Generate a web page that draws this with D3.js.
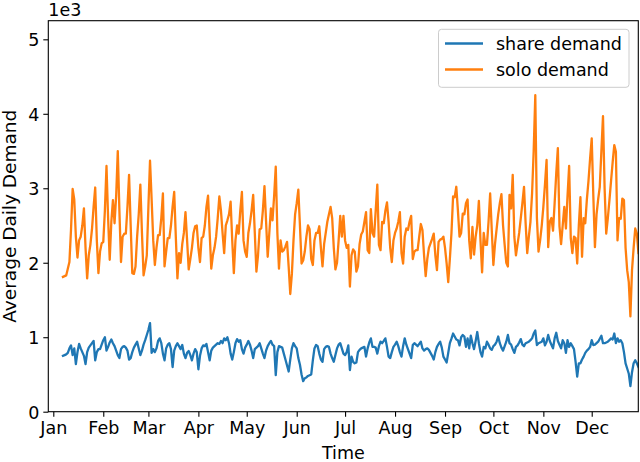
<!DOCTYPE html>
<html>
<head>
<meta charset="utf-8">
<script src="https://cdn.jsdelivr.net/npm/d3@7"></script>
<style>
  html, body { margin: 0; padding: 0; background: #fff; }
  svg { display: block; font-family: "DejaVu Sans", sans-serif; }
</style>
</head>
<body>
<svg id="chart" width="640" height="462"></svg>
<script>
// ---- data (values in thousands, daily from 2017-01-07) ----
const startDate = "2017-01-07";
const seriesNames = ["share demand", "solo demand"];
const seriesColors = ["#1f77b4", "#ff7f0e"];
const yTicks = [0, 1, 2, 3, 4, 5];
const monthLabels = ["Jan","Feb","Mar","Apr","May","Jun","Jul","Aug","Sep","Oct","Nov","Dec"];

const soloDemand = [
  1.81,1.82,1.83,1.92,2.01,2.45,2.99,2.85,2.35,2.07,
  2.30,2.35,2.50,2.73,2.20,1.79,2.10,2.24,2.45,2.75,
  3.01,2.30,1.86,2.15,2.26,2.28,2.70,3.30,2.60,2.04,
  2.55,2.84,2.53,2.90,3.50,2.70,2.01,2.35,2.39,2.39,
  2.75,3.18,2.50,1.86,1.85,1.95,2.35,2.65,3.05,2.40,
  1.83,1.95,2.10,2.75,3.37,2.85,2.30,1.97,2.20,2.37,
  2.37,2.60,2.93,1.95,2.15,2.33,2.33,2.50,2.75,2.95,
  2.35,1.79,2.13,2.00,2.25,2.40,2.68,2.30,1.91,2.05,
  2.20,2.40,2.49,2.50,2.20,2.01,2.33,2.35,2.50,2.75,
  2.90,2.40,1.92,2.10,2.20,2.35,2.60,2.89,2.70,2.40,
  2.13,2.50,2.57,2.65,2.82,2.30,1.86,2.30,2.50,2.39,
  2.70,2.95,2.30,2.15,2.08,2.40,2.53,2.70,2.91,2.40,
  1.88,2.10,2.45,2.46,2.70,3.03,2.55,2.08,2.40,2.73,
  2.57,2.90,3.29,2.40,1.92,2.30,2.15,2.17,2.22,2.28,
  1.95,1.58,1.85,2.30,2.65,2.80,2.98,2.50,1.99,2.03,
  2.15,2.35,2.50,2.45,2.05,1.97,2.30,2.40,2.40,2.49,
  2.20,1.95,2.25,2.40,2.55,2.65,2.75,2.60,2.20,1.91,
  2.00,2.30,2.63,2.35,2.63,2.30,2.20,2.24,1.68,2.10,
  2.18,2.15,1.88,1.95,2.25,2.38,2.42,2.55,2.68,2.17,
  2.13,2.72,2.40,2.35,2.70,3.05,2.24,2.17,2.55,2.53,
  2.70,2.81,2.55,2.20,2.01,2.30,2.40,2.46,2.55,2.68,
  2.13,1.99,2.35,2.46,2.44,2.55,2.63,2.05,2.15,2.17,
  2.17,2.35,2.52,2.44,2.10,1.82,2.05,2.20,2.26,2.32,
  2.39,2.10,1.90,2.28,2.31,2.32,2.35,2.20,1.99,1.74,
  2.05,2.40,2.89,2.88,3.02,2.70,2.35,2.40,2.66,2.65,
  2.80,2.85,2.30,2.06,2.48,2.11,2.35,2.50,2.83,2.30,
  1.87,2.40,2.24,2.24,2.55,2.93,2.44,1.97,2.25,2.45,
  2.65,2.80,2.92,2.50,2.24,2.00,1.95,2.91,2.73,3.18,
  2.35,2.10,2.25,2.40,2.60,2.80,3.02,2.53,2.13,2.35,
  2.55,2.93,3.50,4.25,2.60,2.15,2.30,2.50,2.75,3.05,
  3.38,2.21,2.55,2.60,2.43,2.80,3.20,3.54,2.49,2.25,
  2.50,2.75,2.46,2.90,3.30,2.33,2.13,2.35,2.33,1.99,
  2.50,2.88,2.08,2.60,2.53,2.85,3.10,3.40,3.67,2.90,
  2.21,2.65,2.85,3.02,3.50,3.97,3.00,2.39,2.60,2.84,
  3.10,3.35,3.58,3.49,2.30,2.60,2.59,2.86,2.84,2.20,
  1.90,1.74,1.28,1.90,2.20,2.46,2.39,2.13
];

const shareDemand = [
  0.75,0.76,0.77,0.79,0.85,0.89,0.76,0.85,0.64,0.80,
  0.91,0.85,0.80,0.75,0.64,0.80,0.86,0.89,0.92,0.95,
  0.69,0.80,0.84,0.84,0.90,0.96,1.00,0.82,0.87,0.93,
  0.97,0.92,0.88,0.82,0.76,0.72,0.84,0.87,0.88,0.86,
  0.82,0.70,0.72,0.80,0.86,0.90,0.94,0.85,0.76,0.82,
  0.90,0.96,1.03,1.10,1.19,0.79,0.84,0.80,0.85,0.95,
  0.985,0.92,0.78,0.69,0.85,0.90,0.92,0.84,0.60,0.82,
  0.88,0.92,0.88,0.84,0.895,0.78,0.72,0.79,0.815,0.76,
  0.69,0.78,0.84,0.80,0.57,0.75,0.85,0.89,0.88,0.91,
  0.80,0.69,0.82,0.86,0.88,0.90,0.92,0.91,0.95,0.92,
  0.985,0.96,1.00,0.92,0.78,0.70,0.80,0.92,0.975,0.94,
  0.96,0.84,0.78,0.86,0.90,0.95,0.90,0.82,0.72,0.84,
  0.86,0.88,0.92,0.85,0.78,0.72,0.82,0.88,0.92,0.95,
  0.90,0.88,0.49,0.80,0.88,0.87,0.86,0.78,0.70,0.62,
  0.54,0.70,0.85,0.92,0.88,0.85,0.72,0.63,0.50,0.41,
  0.45,0.46,0.48,0.49,0.50,0.69,0.85,0.895,0.88,0.78,
  0.70,0.67,0.84,0.87,0.88,0.87,0.78,0.72,0.67,0.76,
  0.85,0.90,0.92,0.85,0.78,0.76,0.80,0.89,0.56,0.74,
  0.67,0.65,0.66,0.80,0.83,0.85,0.86,0.87,0.74,0.85,
  0.93,0.985,0.87,0.87,0.86,0.78,0.88,0.94,0.92,0.95,
  0.985,0.87,0.74,0.72,0.80,0.87,0.90,0.94,0.88,0.80,
  0.74,0.88,0.985,0.90,0.84,0.78,0.72,0.895,0.92,0.90,
  0.88,0.91,0.94,0.85,0.82,0.84,0.85,0.83,0.79,0.75,
  0.70,0.80,0.87,0.91,0.94,0.86,0.74,0.70,0.66,0.79,
  0.92,0.98,1.05,1.01,0.97,0.96,0.89,1.00,1.03,1.01,
  0.87,0.985,0.85,1.02,0.92,0.84,0.95,1.07,0.92,0.80,
  0.74,0.87,0.85,0.94,0.90,0.85,0.83,0.88,0.90,0.94,
  1.01,0.92,0.86,0.82,0.88,0.94,1.03,0.92,0.90,0.84,
  0.79,0.87,0.89,0.93,0.975,0.90,0.88,0.92,0.93,0.94,
  0.96,0.985,1.05,1.09,0.895,0.92,0.93,0.94,0.985,0.89,
  0.94,1.03,0.95,0.90,0.85,0.985,1.06,0.95,0.90,0.85,
  0.96,0.92,0.79,0.96,0.87,0.92,0.88,0.84,0.67,0.47,
  0.65,0.65,0.70,0.74,0.79,0.82,0.84,0.87,0.96,0.895,
  0.90,0.92,0.94,0.98,1.02,0.92,0.92,0.93,0.94,0.96,
  0.985,0.97,1.05,0.92,0.985,0.94,0.96,0.92,0.80,0.65,
  0.58,0.51,0.345,0.53,0.65,0.69,0.65,0.60
];

// ---- layout ----
const svg = d3.select("#chart");
const m = { left: 48.3, right: 638.3, top: 20.7, bottom: 411.7 };
const FS = 17.5;

const t0 = new Date(startDate + "T00:00:00Z");
const dayMs = 86400000;
const toDates = arr => arr.map((v, i) => ({ date: new Date(t0.getTime() + i * dayMs), value: v }));
const series = [toDates(shareDemand), toDates(soloDemand)];

const x = d3.scaleUtc()
  .domain([new Date(Date.UTC(2016, 11, 28, 21, 36)), new Date(Date.UTC(2017, 11, 29, 21, 36))])
  .range([m.left, m.right]);
const y = d3.scaleLinear().domain([0, 5.25]).range([m.bottom, m.top]);

svg.append("defs").append("clipPath").attr("id", "clip")
  .append("rect").attr("x", m.left).attr("y", m.top)
  .attr("width", m.right - m.left).attr("height", m.bottom - m.top);

const line = d3.line().x(d => x(d.date)).y(d => y(d.value));
const g = svg.append("g").attr("clip-path", "url(#clip)");
series.forEach((s, i) => {
  g.append("path").datum(s)
    .attr("fill", "none")
    .attr("stroke", seriesColors[i])
    .attr("stroke-width", 2.3)
    .attr("stroke-linejoin", "round")
    .attr("stroke-linecap", "square")
    .attr("d", line);
});

// axes
const xAxis = d3.axisBottom(x)
  .ticks(d3.utcMonth.every(1))
  .tickFormat(d => monthLabels[d.getUTCMonth()])
  .tickSize(5).tickPadding(4);
const gx = svg.append("g").attr("transform", `translate(0,${m.bottom})`).call(xAxis);
gx.select(".domain").remove();
gx.selectAll("line").attr("stroke", "#000").attr("stroke-width", 1.1);
gx.selectAll("text").attr("font-size", FS).attr("fill", "#000")
  .attr("font-family", "DejaVu Sans").attr("dy", "0.75em");

const yAxis = d3.axisLeft(y).tickValues(yTicks).tickFormat(d3.format("d"))
  .tickSize(5).tickPadding(4);
const gy = svg.append("g").attr("transform", `translate(${m.left},0)`).call(yAxis);
gy.select(".domain").remove();
gy.selectAll("line").attr("stroke", "#000").attr("stroke-width", 1.1);
gy.selectAll("text").attr("font-size", FS).attr("fill", "#000")
  .attr("font-family", "DejaVu Sans").attr("dy", "0.36em");

// frame
svg.append("rect").attr("x", m.left).attr("y", m.top)
  .attr("width", m.right - m.left).attr("height", m.bottom - m.top)
  .attr("fill", "none").attr("stroke", "#000").attr("stroke-width", 1.1);

// offset text
svg.append("text").attr("x", m.left).attr("y", 16).attr("font-size", FS).text("1e3");

// axis labels
svg.append("text").attr("x", (m.left + m.right) / 2).attr("y", 459)
  .attr("text-anchor", "middle").attr("font-size", FS).text("Time");
svg.append("text")
  .attr("transform", `translate(16,${(m.top + m.bottom) / 2}) rotate(-90)`)
  .attr("text-anchor", "middle").attr("font-size", 18.5).text("Average Daily Demand");

// legend
const lg = svg.append("g");
lg.append("rect").attr("x", 438.5).attr("y", 29.3).attr("width", 190.5).attr("height", 58)
  .attr("rx", 3).attr("fill", "#fff").attr("fill-opacity", 0.8)
  .attr("stroke", "#cccccc").attr("stroke-width", 1);
seriesNames.forEach((name, i) => {
  const yy = 43.5 + i * 26;
  lg.append("line").attr("x1", 445).attr("x2", 483).attr("y1", yy).attr("y2", yy)
    .attr("stroke", seriesColors[i]).attr("stroke-width", 2.3);
  lg.append("text").attr("x", 496).attr("y", yy).attr("dy", "0.35em")
    .attr("font-size", FS).text(name);
});
</script>
</body>
</html>
